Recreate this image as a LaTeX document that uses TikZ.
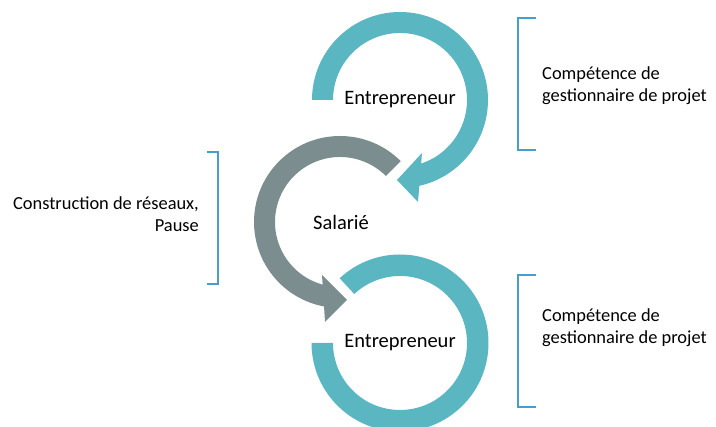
\documentclass[tikz,border=0pt]{standalone}
\usepackage{fontspec}
\setmainfont{Carlito}
\usetikzlibrary{calc}
\definecolor{teal}{HTML}{5AB7C1}
\definecolor{slate}{HTML}{7B8D8E}
\definecolor{brk}{HTML}{4A9DC9}
\begin{document}
\begin{tikzpicture}[x=1pt,y=1pt,
  ring/.style={fill=teal,draw=none},
  grayarrow/.style={fill=slate,draw=none},
  bracket/.style={draw=brk,line width=1.3pt},
  big/.style={font=\fontsize{20.5}{24}\selectfont,text=black,inner sep=0pt},
  small/.style={font=\fontsize{18.4}{22}\selectfont,text=black,inner sep=0pt,align=left}]
\useasboundingbox (0,0) rectangle (716,427);
\clip (0,0) rectangle (716,427);
% centres
\coordinate (c1) at (400,327);
\coordinate (c2) at (340,205);
\coordinate (c3) at (400,84);
% top arrow
\coordinate (w1o) at (418,225);
\coordinate (t1) at (397,247);
\coordinate (w1i) at (422,274);
\fill[ring] ($(c1)+(180:88)$) arc[start angle=180,end angle=-77.3,radius=88]
  -- (w1o) -- (t1) -- (w1i) -- ($(c1)+(-71.6:67)$)
  arc[start angle=-71.6,end angle=180,radius=67] -- cycle;
% gray arrow
\coordinate (w2o) at (325,105);
\coordinate (t2) at (347,127);
\coordinate (w2i) at (322,152);
\fill[grayarrow] ($(c2)+(45:86)$) arc[start angle=45,end angle=259.3,radius=86]
  -- (w2o) -- (t2) -- (w2i) -- ($(c2)+(254.5:65)$)
  arc[start angle=254.5,end angle=45,radius=65] -- cycle;
% bottom ring
\fill[ring] ($(c3)+(133:88.5)$) arc[start angle=133,end angle=-180,radius=88.5]
  -- ($(c3)+(180:67)$) arc[start angle=-180,end angle=133,radius=67] -- cycle;
% labels
\node[big] (e1) at (c1) {Entrepreneur};
\node[big] (s) at (341,205) {Salarié};
\node[big] (e2) at (c3) {Entrepreneur};
% brackets
\draw[bracket] (536,409) -- (518,409) -- (518,277) -- (536,277);
\draw[bracket] (536,152) -- (518,152) -- (518,20) -- (536,20);
\draw[bracket] (207,275) -- (218,275) -- (218,143) -- (207,143);
\node[small,anchor=west] (r1) at (542,341) {Compétence de\\gestionnaire de projet};
\node[small,anchor=west] (r2) at (542,99) {Compétence de\\gestionnaire de projet};
\node[small,anchor=east,align=right] (l1) at (199,213) {Construction de réseaux,\\Pause};
\end{tikzpicture}
\end{document}
